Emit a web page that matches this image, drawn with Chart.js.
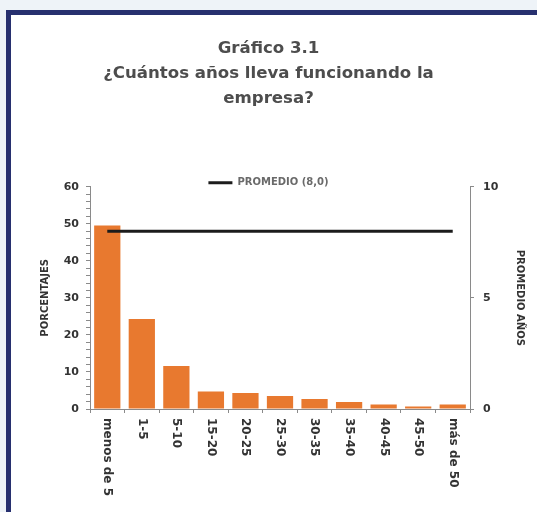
<!DOCTYPE html>
<html>
<head>
<meta charset="utf-8">
<script src="https://cdn.jsdelivr.net/npm/chart.js@4/dist/chart.umd.min.js"></script>
<style>
  html, body { margin: 0; padding: 0; background: #ffffff; }
  #wrap { position: relative; width: 537px; height: 512px; overflow: hidden; background: #eef3f8; }
  #frame { position: absolute; left: 6px; top: 10px; width: 700px; height: 700px;
           border-left: 5px solid #27306f; border-top: 5px solid #27306f; background: #ffffff; }
  #c { position: absolute; left: 0; top: 0; }
</style>
</head>
<body>
<div id="wrap">
  <div id="frame"></div>
  <canvas id="c" width="537" height="512"></canvas>
</div>
<script>
// Años de funcionamiento de la empresa
const categorias = ["menos de 5", "1-5", "5-10", "15-20", "20-25", "25-30", "30-35", "35-40", "40-45", "45-50", "más de 50"];
// Porcentaje de empresas en cada tramo
const porcentajes = [49.5, 24.3, 11.6, 4.7, 4.3, 3.5, 2.7, 1.9, 1.2, 0.7, 1.2];
// Promedio de años (8,0), constante en todos los tramos
const promedio = [8.0, 8.0, 8.0, 8.0, 8.0, 8.0, 8.0, 8.0, 8.0, 8.0, 8.0];
const ticksPorcentaje = [0, 10, 20, 30, 40, 50, 60];
const ticksPromedio = [0, 5, 10];

const FONT = "'DejaVu Sans', Verdana, sans-serif";
const TEXT = '#333333';
const AXIS = '#8a8a8a';
const LEGEND_FONT = 10;
const LEGEND_PAD = 4;

// Etiquetas del eje X giradas 90° en sentido horario
const xLabelsPlugin = {
  id: 'xLabels',
  afterDraw(chart) {
    const sx = chart.scales.x;
    const ctx = chart.ctx;
    ctx.save();
    ctx.fillStyle = TEXT;
    ctx.font = "bold 12px " + FONT;
    ctx.textAlign = 'left';
    ctx.textBaseline = 'middle';
    categorias.forEach((lab, i) => {
      const x = sx.getPixelForTick(i);
      ctx.save();
      ctx.translate(x, sx.top + 9);
      ctx.rotate(Math.PI / 2);
      ctx.fillText(lab, 0, 0);
      ctx.restore();
    });
    ctx.restore();
  }
};

// La leyenda se apoya justo encima del área del gráfico
const legendNudge = {
  id: 'legendNudge',
  afterLayout(chart) {
    const lg = chart.legend;
    if (!lg) return;
    const center = lg.top + LEGEND_PAD + LEGEND_FONT / 2;
    const shift = (chart.chartArea.top - 4) - center;
    lg.top += shift;
    lg.bottom += shift;
  }
};

new Chart(document.getElementById('c'), {
  data: {
    labels: categorias,
    datasets: [
      {
        type: 'line',
        label: 'PROMEDIO (8,0)',
        data: promedio,
        yAxisID: 'y1',
        borderColor: '#1c1c1c',
        backgroundColor: '#1c1c1c',
        borderWidth: 3,
        pointRadius: 0,
        order: 0
      },
      {
        type: 'bar',
        label: 'Porcentaje',
        data: porcentajes,
        yAxisID: 'y',
        backgroundColor: '#e8792f',
        borderWidth: 0,
        barPercentage: 0.76,
        categoryPercentage: 1.0,
        order: 1
      }
    ]
  },
  options: {
    responsive: false,
    animation: false,
    devicePixelRatio: 1,
    layout: { padding: { top: 20, left: 0, right: 0, bottom: 0 } },
    plugins: {
      title: {
        display: true,
        text: ["Gráfico 3.1", "¿Cuántos años lleva funcionando la", "empresa?"],
        color: '#4d4d4d',
        font: { family: FONT, size: 16.6, weight: 'bold', lineHeight: 1.5 },
        padding: { top: 16, bottom: 52 }
      },
      legend: {
        display: true,
        position: 'top',
        labels: {
          filter: item => item.datasetIndex === 0,
          usePointStyle: true,
          pointStyle: 'line',
          pointStyleWidth: 24,
          boxHeight: 3,
          color: '#6a6a6a',
          font: { family: FONT, size: LEGEND_FONT, weight: 'bold' },
          padding: LEGEND_PAD
        }
      },
      tooltip: { enabled: false }
    },
    scales: {
      x: {
        offset: true,
        grid: { display: true, offset: true, drawOnChartArea: false, drawTicks: true, tickLength: 4, color: AXIS },
        border: { color: AXIS, width: 1 },
        ticks: { display: false },
        afterFit(scale) { scale.height = 103; }
      },
      y: {
        position: 'left',
        min: 0,
        max: 60,
        afterBuildTicks(scale) {
          const t = [];
          for (let v = 0; v <= 60; v += 2) t.push({ value: v });
          scale.ticks = t;
        },
        ticks: {
          autoSkip: false,
          color: TEXT,
          padding: 7,
          font: { family: FONT, size: 11, weight: 'bold' },
          callback: v => ticksPorcentaje.includes(v) ? String(v) : ''
        },
        grid: { drawOnChartArea: false, drawTicks: true, tickLength: 4, color: AXIS },
        border: { color: AXIS, width: 1 },
        title: {
          display: true,
          text: 'PORCENTAJES',
          color: TEXT,
          font: { family: FONT, size: 10, weight: 'bold' },
          padding: { top: 39, bottom: 0 }
        },
        afterFit(scale) { scale.width = 90; }
      },
      y1: {
        position: 'right',
        min: 0,
        max: 10,
        afterBuildTicks(scale) { scale.ticks = ticksPromedio.map(v => ({ value: v })); },
        ticks: {
          color: TEXT,
          padding: 9,
          font: { family: FONT, size: 11, weight: 'bold' }
        },
        grid: { drawOnChartArea: false, drawTicks: true, tickLength: 4, color: AXIS },
        border: { color: AXIS, width: 1 },
        title: {
          display: true,
          text: 'PROMEDIO AÑOS',
          color: TEXT,
          font: { family: FONT, size: 10, weight: 'bold' },
          padding: { top: 11, bottom: 0 }
        },
        afterFit(scale) { scale.width = 67; }
      }
    }
  },
  plugins: [xLabelsPlugin, legendNudge]
});
</script>
</body>
</html>
